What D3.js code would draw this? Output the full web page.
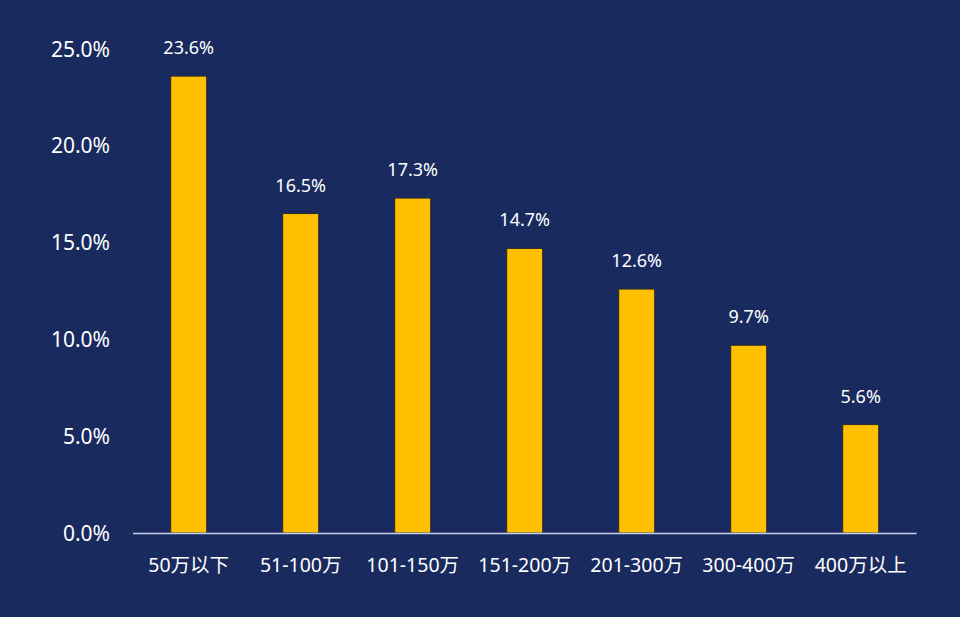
<!DOCTYPE html>
<html><head><meta charset="utf-8">
<script src="https://cdn.jsdelivr.net/npm/d3@7"></script>
<style>html,body{margin:0;padding:0;background:#192a5e;}svg{display:block;}</style>
</head><body>
<script>
const categories = ["50万以下","51-100万","101-150万","151-200万","201-300万","300-400万","400万以上"];
const values = [23.6, 16.5, 17.3, 14.7, 12.6, 9.7, 5.6];
const yTicks = [0, 5, 10, 15, 20, 25];

const W = 960, H = 617;
const font = "'Noto Sans','Noto Sans CJK SC',sans-serif";
const svg = d3.select("body").append("svg").attr("width", W).attr("height", H);
svg.append("rect").attr("width", W).attr("height", H).attr("fill", "#192a5e");

const x = d3.scaleBand().domain(categories).range([132.7, 916.7]).paddingInner(0.679).paddingOuter(0.3395);
const y = d3.scaleLinear().domain([0, 25]).range([533, 49]);

// y labels
svg.append("g").selectAll("text").data(yTicks).join("text")
  .attr("x", 110).attr("y", d => y(d)).attr("dy", "0.36em")
  .attr("text-anchor", "end").attr("fill", "#ffffff")
  .style("font-family", font).style("font-size", "21px")
  .text(d => d3.format(".1f")(d) + "%");

// bars
svg.append("g").selectAll("rect").data(values).join("rect")
  .attr("x", (d, i) => x(categories[i]))
  .attr("width", x.bandwidth())
  .attr("y", d => y(d))
  .attr("height", d => y(0) - y(d))
  .attr("fill", "#ffc000")
  .attr("stroke", "#2a2a2a").attr("stroke-width", 1);

// axis line
svg.append("line").attr("x1", 133).attr("x2", 916.7).attr("y1", y(0) + 0.5).attr("y2", y(0) + 0.5)
  .attr("stroke", "#c6d0ee").attr("stroke-width", 1.5);

// value labels
svg.append("g").selectAll("text").data(values).join("text")
  .attr("x", (d, i) => x(categories[i]) + x.bandwidth() / 2)
  .attr("y", d => y(d) - 22)
  .attr("text-anchor", "middle").attr("fill", "#ffffff")
  .style("font-family", font).style("font-size", "18px")
  .text(d => d3.format(".1f")(d) + "%");

// x labels
svg.append("g").selectAll("text").data(categories).join("text")
  .attr("x", d => x(d) + x.bandwidth() / 2)
  .attr("y", 565).attr("dy", "0.36em")
  .attr("text-anchor", "middle").attr("fill", "#ffffff")
  .style("font-family", font).style("font-size", "19.5px")
  .text(d => d);
</script>
</body></html>
